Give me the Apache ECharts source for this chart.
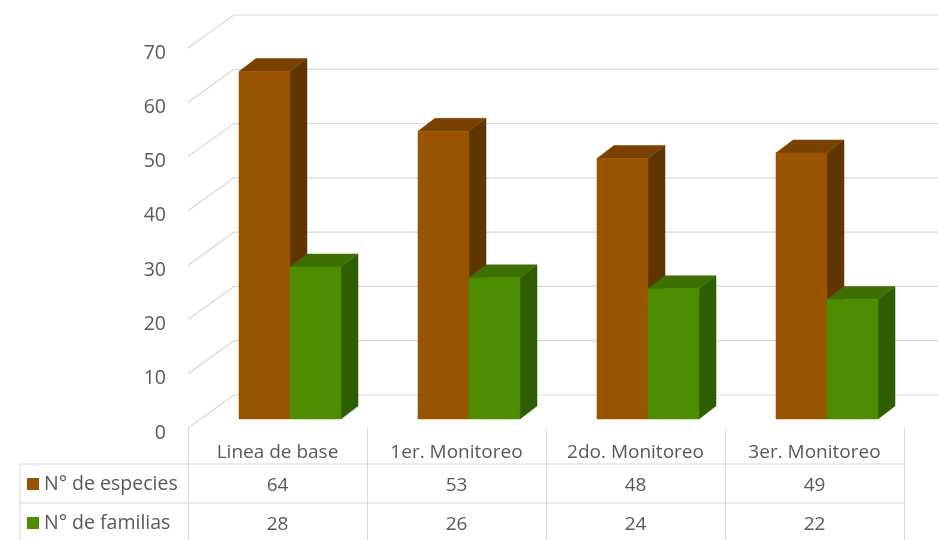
<!DOCTYPE html>
<html><head><meta charset="utf-8">
<style>html,body{margin:0;padding:0;background:#fff}#c{width:938px;height:540px}</style>
<script src="https://cdn.jsdelivr.net/npm/echarts@6/dist/echarts.min.js"></script>
</head><body><div id="c"></div>
<script>
const categories = ['Linea de base', '1er. Monitoreo', '2do. Monitoreo', '3er. Monitoreo'];
const especies = [64, 53, 48, 49];
const familias = [28, 26, 24, 22];
const yTicks = [0, 10, 20, 30, 40, 50, 60, 70];
const nameEspecies = 'N° de especies';
const nameFamilias = 'N° de familias';

const FONT = '"Open Sans", Lato, sans-serif';
const TEXT = '#595959';
const GRID = '#d9d9d9';
const WALL_DX = 46, WALL_DY = -33;
const SHIFT_X = 12.5, SHIFT_Y = -9;
const DEPTH_X = 17, DEPTH_Y = -13;
const BAR_RATIO = 0.285;
const ROW_Y = { e: 486, f: 525 };

function poly(points, fill) {
  return { type: 'polygon', shape: { points }, style: { fill, stroke: fill, lineWidth: 0.5 } };
}
function barRenderer(side, front, top, dark, rowY) {
  return function (params, api) {
    const idx = api.value(0), val = api.value(1);
    const p0 = api.coord([idx, 0]), p1 = api.coord([idx, val]);
    const w = api.size([1, 0])[0] * BAR_RATIO;
    const cx = p0[0] + SHIFT_X;
    const xa = side < 0 ? cx - w : cx, xb = xa + w;
    const yb = p0[1] + SHIFT_Y, yt = p1[1] + SHIFT_Y;
    return {
      type: 'group',
      children: [
        poly([[xb, yt], [xb + DEPTH_X, yt + DEPTH_Y], [xb + DEPTH_X, yb + DEPTH_Y], [xb, yb]], dark),
        poly([[xa, yt], [xa + DEPTH_X, yt + DEPTH_Y], [xb + DEPTH_X, yt + DEPTH_Y], [xb, yt]], top),
        poly([[xa, yt], [xb, yt], [xb, yb], [xa, yb]], front),
        { type: 'text', style: { text: String(val), x: p0[0], y: rowY, align: 'center', verticalAlign: 'middle',
            fill: TEXT, font: '19px ' + FONT } }
      ]
    };
  };
}
function wallRenderer(params, api) {
  const t = api.value(1);
  const p = api.coord([0, t]);
  const x0 = params.coordSys.x, x1 = x0 + params.coordSys.width;
  return { type: 'polyline', shape: { points: [[x0, p[1]], [x0 + WALL_DX, p[1] + WALL_DY], [x1 + WALL_DX, p[1] + WALL_DY]] },
    style: { fill: null, stroke: GRID, lineWidth: 1.2 } };
}
function hline(x1, x2, y) {
  return { type: 'line', shape: { x1, y1: y, x2, y2: y }, style: { stroke: GRID, lineWidth: 1 }, silent: true };
}

const chart = echarts.init(document.getElementById('c'), null, { renderer: 'canvas' });
chart.setOption({
  animation: false,
  backgroundColor: '#fff',
  grid: { left: 188, right: 34, top: 48, bottom: 112 },
  xAxis: {
    type: 'category', data: categories,
    axisLine: { show: false },
    axisTick: { show: true, interval: 0, length: 112, lineStyle: { color: GRID } },
    axisLabel: { color: TEXT, fontFamily: FONT, fontSize: 19, margin: 15, interval: 0, hideOverlap: false },
    splitLine: { show: false }
  },
  yAxis: {
    type: 'value', min: 0, max: 70, interval: 10,
    axisLine: { show: false }, axisTick: { show: false }, splitLine: { show: false },
    axisLabel: { color: TEXT, fontFamily: FONT, fontSize: 19.5, margin: 22, verticalAlign: 'top', lineHeight: 10 }
  },
  legend: {
    data: [nameEspecies, nameFamilias], orient: 'vertical', left: 27, top: 474, padding: 0,
    icon: 'rect', itemWidth: 12, itemHeight: 12, itemGap: 19, selectedMode: false,
    textStyle: { color: TEXT, fontFamily: FONT, fontSize: 19.5, lineHeight: 20 }
  },
  graphic: [
    hline(20, 904, 464), hline(20, 904, 503),
    { type: 'line', shape: { x1: 20, y1: 464, x2: 20, y2: 540 }, style: { stroke: GRID, lineWidth: 1 }, silent: true }
  ],
  series: [
    { type: 'custom', name: 'wall', silent: true, data: yTicks.map(t => [0, t]), encode: { x: 0, y: 1 }, renderItem: wallRenderer, clip: false, z: 1 },
    { type: 'custom', name: nameEspecies, itemStyle: { color: '#985400' }, data: especies.map((v, i) => [i, v]), encode: { x: 0, y: 1 },
      renderItem: barRenderer(-1, '#985400', '#7a4200', '#5f3500', ROW_Y.e), z: 2 },
    { type: 'custom', name: nameFamilias, itemStyle: { color: '#4e8c00' }, data: familias.map((v, i) => [i, v]), encode: { x: 0, y: 1 },
      renderItem: barRenderer(1, '#4e8c00', '#3d7000', '#2f5e00', ROW_Y.f), z: 3 }
  ]
});
</script></body></html>
